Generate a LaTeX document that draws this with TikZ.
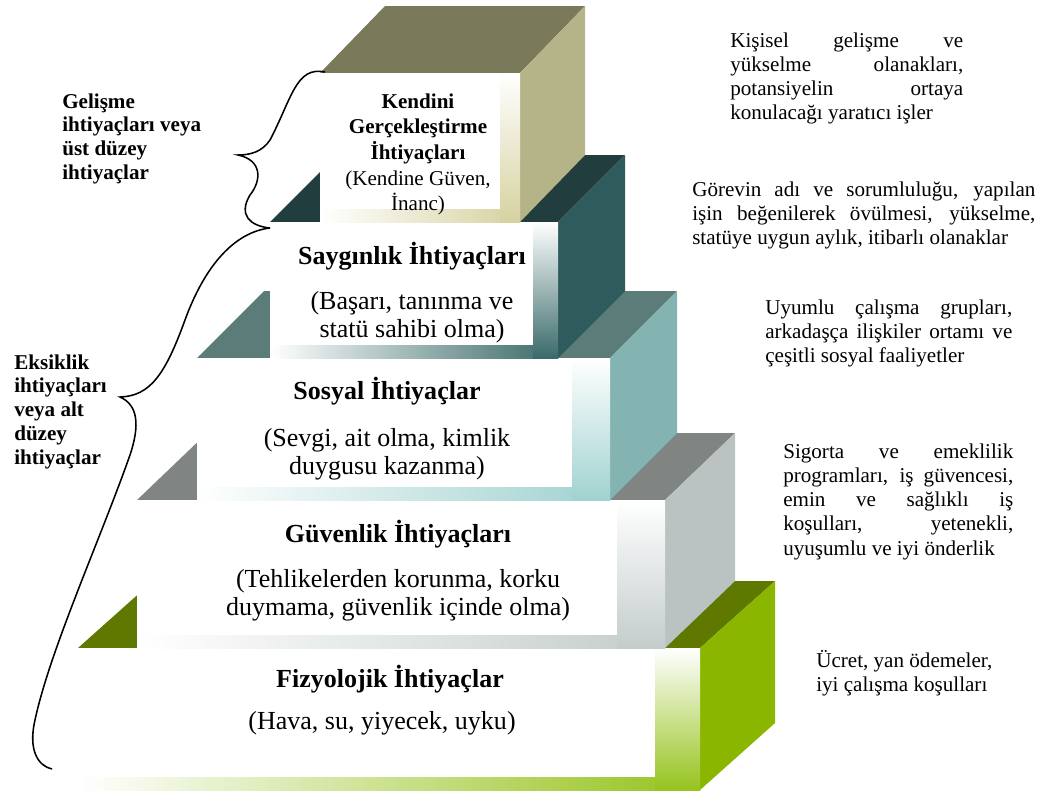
\documentclass[tikz,border=0pt]{standalone}
\usepackage{fontspec}
\setmainfont{Liberation Serif}
\usepackage{tikz}

\definecolor{kenUst}{HTML}{7A7A5A}
\definecolor{kenYan}{HTML}{B5B488}
\definecolor{kenYuz}{HTML}{D6D2A0}
\definecolor{sayUst}{HTML}{213D3D}
\definecolor{sayYan}{HTML}{2E5B5B}
\definecolor{sayYuz}{HTML}{3A6A6A}
\definecolor{sosUst}{HTML}{5C7C79}
\definecolor{sosYan}{HTML}{84B4B2}
\definecolor{sosYuz}{HTML}{A0D2D0}
\definecolor{guvUst}{HTML}{808483}
\definecolor{guvYan}{HTML}{BBC2C2}
\definecolor{guvYuz}{HTML}{C4CCCC}
\definecolor{fizUst}{HTML}{5E7800}
\definecolor{fizYan}{HTML}{8AB600}
\definecolor{fizYuz}{HTML}{96C31E}

\tikzset{
  baslik/.style={font=\fontsize{18.5}{20}\selectfont\bfseries, inner sep=0, anchor=base},
  aciklama/.style={font=\fontsize{18.5}{20}\selectfont, inner sep=0, anchor=base},
  kucuk/.style={font=\fontsize{15}{18.3}\selectfont, inner sep=0, anchor=base},
  yanyazi/.style={font=\fontsize{15}{17.3}\selectfont, inner sep=0, anchor=base west},
  soltaraf/.style={font=\fontsize{15}{17}\selectfont\bfseries, inner sep=0, anchor=base west},
  parantez/.style={line width=1.1pt}
}

% xl, xr, yt, yb, dx, top, side, face, strip
\newcommand{\kat}[9]{%
  \fill[#6] (#1,#3) -- (#2,#3) -- ({#2+#5},{#3-67}) -- ({#1+#5},{#3-67}) -- cycle;
  \fill[#7] (#2,#3) -- ({#2+#5},{#3-67}) -- ({#2+#5},{#4-67}) -- (#2,#4) -- cycle;
  \fill[white] (#1,#3) rectangle (#2,#4);
  \shade[left color=white, right color=#8] (#1,{#4-13}) rectangle (#2,#4);
  \shade[top color=white, bottom color=#8] ({#2-#9},#3) rectangle (#2,#4);
}
\newcommand{\iki}[2]{\parbox[t]{300pt}{\centering #1\\ #2}}
\newcommand{\yasla}[1]{\makebox[\linewidth][s]{#1}}

\begin{document}
\begin{tikzpicture}[x=0.025cm, y=-0.025cm]
\useasboundingbox (0,0) rectangle (1037,791);

\kat{78}{700}{648}{790}{75}{fizUst}{fizYan}{fizYuz}{45}
\kat{137}{665}{500}{648}{70}{guvUst}{guvYan}{guvYuz}{48}
\kat{197}{610}{358}{500}{67}{sosUst}{sosYan}{sosYuz}{38}
\kat{270}{558}{222}{358}{67}{sayUst}{sayYan}{sayYuz}{25}
\kat{320}{520}{73}{222}{65}{kenUst}{kenYan}{kenYuz}{20}

\node[baslik] (fizB) at (390,687) {Fizyolojik İhtiyaçlar};
\node[aciklama] (fizA) at (382,729) {(Hava, su, yiyecek, uyku)};
\node[baslik] (guvB) at (398,542) {Güvenlik İhtiyaçları};
\node[aciklama] (guvA) at (398,587) {\iki{(Tehlikelerden korunma, korku}{duymama, güvenlik içinde olma)}};
\node[baslik] (sosB) at (387,399) {Sosyal İhtiyaçlar};
\node[aciklama] (sosA) at (387,446) {\iki{(Sevgi, ait olma, kimlik}{duygusu kazanma)}};
\node[baslik] (sayB) at (412,264) {Saygınlık İhtiyaçları};
\node[aciklama] (sayA) at (412,309) {\iki{(Başarı, tanınma ve}{statü sahibi olma)}};
\node[kucuk] (kenB) at (418,108) {\parbox[t]{150pt}{\centering\bfseries Kendini\\ Gerçekleştirme\\ İhtiyaçları\\ \mdseries (Kendine Güven,\\ İnanc)}};

\node[yanyazi] (kisisel) at (730,47) {\parbox[t]{165.7pt}{\yasla{Kişisel gelişme ve}\\ \yasla{yükselme olanakları,}\\ \yasla{potansiyelin ortaya}\\ konulacağı yaratıcı işler}};
\node[yanyazi] (gorev) at (692,196) {\parbox[t]{244pt}{\yasla{Görevin adı ve sorumluluğu, yapılan}\\ \yasla{işin beğenilerek övülmesi, yükselme,}\\ statüye uygun aylık, itibarlı olanaklar}};
\node[yanyazi] (uyum) at (765,314) {\parbox[t]{175.7pt}{\yasla{Uyumlu çalışma grupları,}\\ \yasla{arkadaşça ilişkiler ortamı ve}\\ çeşitli sosyal faaliyetler}};
\node[yanyazi] (sigorta) at (783,458) {\parbox[t]{163.6pt}{\yasla{Sigorta ve emeklilik}\\ \yasla{programları, iş güvencesi,}\\ \yasla{emin ve sağlıklı iş}\\ \yasla{koşulları, yetenekli,}\\ uyuşumlu ve iyi önderlik}};
\node[yanyazi] (ucret) at (816,667) {\parbox[t]{200pt}{Ücret, yan ödemeler,\\ iyi çalışma koşulları}};

\node[soltaraf] (gelisme) at (62,108) {\parbox[t]{150pt}{Gelişme\\ ihtiyaçları veya\\ üst düzey\\ ihtiyaçlar}};
\node[soltaraf] (eksiklik) at (14,369) {\parbox[t]{120pt}{Eksiklik\\ ihtiyaçları\\ veya alt\\ düzey\\ ihtiyaçlar}};

\coordinate (ustBas) at (325,72);
\coordinate (ustUc) at (238,155);
\coordinate (orta) at (270,228);
\coordinate (altUc) at (120,397);
\coordinate (altSon) at (52,769);
\draw[parantez] (ustBas) .. controls (296,66) and (292,98) .. (270,140) .. controls (262,152) and (250,155) .. (ustUc) .. controls (262,160) and (262,180) .. (250,195) .. controls (238,215) and (250,226) .. (orta);
\draw[parantez] (orta) .. controls (235,232) and (205,265) .. (185,320) .. controls (165,375) and (150,396) .. (altUc) .. controls (138,405) and (140,425) .. (130,455) .. controls (100,540) and (50,650) .. (35,720) .. controls (28,750) and (38,766) .. (altSon);
\end{tikzpicture}
\end{document}
